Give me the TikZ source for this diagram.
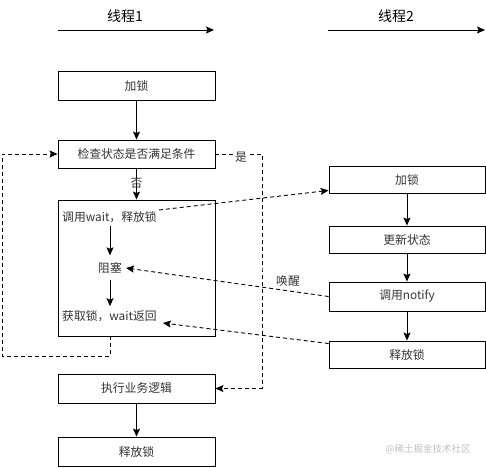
\documentclass[tikz,border=0pt]{standalone}
\usepackage{fontspec}
\newfontfamily\cjk{Noto Sans CJK SC}
\usetikzlibrary{arrows.meta}
\definecolor{txt}{HTML}{333333}
\definecolor{wm}{HTML}{C0C0C0}
\begin{document}
\begin{tikzpicture}[x=1pt,y=-1pt,
  box/.style={draw,line width=0.9pt,minimum width=157pt,minimum height=29pt,inner sep=0pt,
    font=\cjk\fontsize{11.8}{13}\selectfont,text=txt},
  lbl/.style={font=\cjk\fontsize{11.8}{13}\selectfont,text=txt,inner sep=2pt},
  arr/.style={line width=0.9pt,-{Stealth[length=8pt,width=7pt,inset=1.5pt]}},
  darr/.style={line width=0.9pt,dash pattern=on 4pt off 3pt,-{Stealth[length=8pt,width=7pt,inset=1.5pt]}},
  title/.style={font=\cjk\fontsize{14}{16}\selectfont}]
\useasboundingbox (0,0) rectangle (486,467);
% titles
\node[title] (t1) at (125,16) {线程1};
\node[title] (t2) at (396,16) {线程2};
\coordinate (h1a) at (58,30); \coordinate (h1b) at (214,30);
\coordinate (h2a) at (328,30); \coordinate (h2b) at (485,30);
\draw[arr] (h1a) -- (h1b);
\draw[arr] (h2a) -- (h2b);
% left column
\node[box] (lock1) at (136.5,85.5) {加锁};
\node[box,minimum height=28pt] (check) at (136.5,154) {检查状态是否满足条件};
\node[box,minimum height=136pt] (big) at (136.5,268) {};
\node[lbl,anchor=west] (wait) at (60,217) {调用wait，释放锁};
\node[lbl] (block) at (110,268) {阻塞};
\node[lbl,anchor=west] (get) at (60,316) {获取锁，wait返回};
\node[box] (exec) at (136.5,388.5) {执行业务逻辑};
\node[box] (rel1) at (136.5,451.5) {释放锁};
% right column
\node[box,minimum width=156pt,minimum height=27pt] (lock2) at (407,179.5) {加锁};
\node[box,minimum width=156pt,minimum height=27pt] (upd) at (407,239.5) {更新状态};
\node[box,minimum width=156pt,minimum height=29pt] (notify) at (407,296.5) {调用notify};
\node[box,minimum width=156pt,minimum height=27pt] (rel2) at (407,354.5) {释放锁};
% solid arrows
\draw[arr] (lock1) -- (check);
\draw[arr] (check) -- (big) node[lbl,midway,yshift=1pt] (no) {否};
\draw[arr] ([yshift=-1pt]wait.south -| block) -- ([yshift=5pt]block.north);
\draw[arr] ([yshift=-4pt]block.south) -- ([yshift=2pt]get.north -| block);
\draw[arr] (exec) -- (rel1);
\draw[arr] (lock2) -- (upd);
\draw[arr] (upd) -- (notify);
\draw[arr] (notify) -- (rel2);
% dashed
\draw[darr] ([yshift=7pt]wait.east) -- ([yshift=3pt]lock2.south west);
\draw[darr] (notify.west) -- ([xshift=2pt]block.east);
\node[lbl] (wake) at (288,281) {唤醒};
\draw[darr] ([yshift=11pt]rel2.west) -- ([xshift=4pt,yshift=-7pt]get.east);
\coordinate (lb) at (2,356);
\draw[darr] (big.south -| block) |- (lb) |- (check.west);
\coordinate (rc) at (262,270);
\draw[darr] (check.east) -| (rc) |- (exec.east);
\node[lbl,fill=white,inner sep=1pt] (yes) at (241,157) {是};
% watermark
\node[font=\cjk\fontsize{9.5}{11}\selectfont,text=wm] (wmk) at (428,449) {@稀土掘金技术社区};
\end{tikzpicture}
\end{document}
